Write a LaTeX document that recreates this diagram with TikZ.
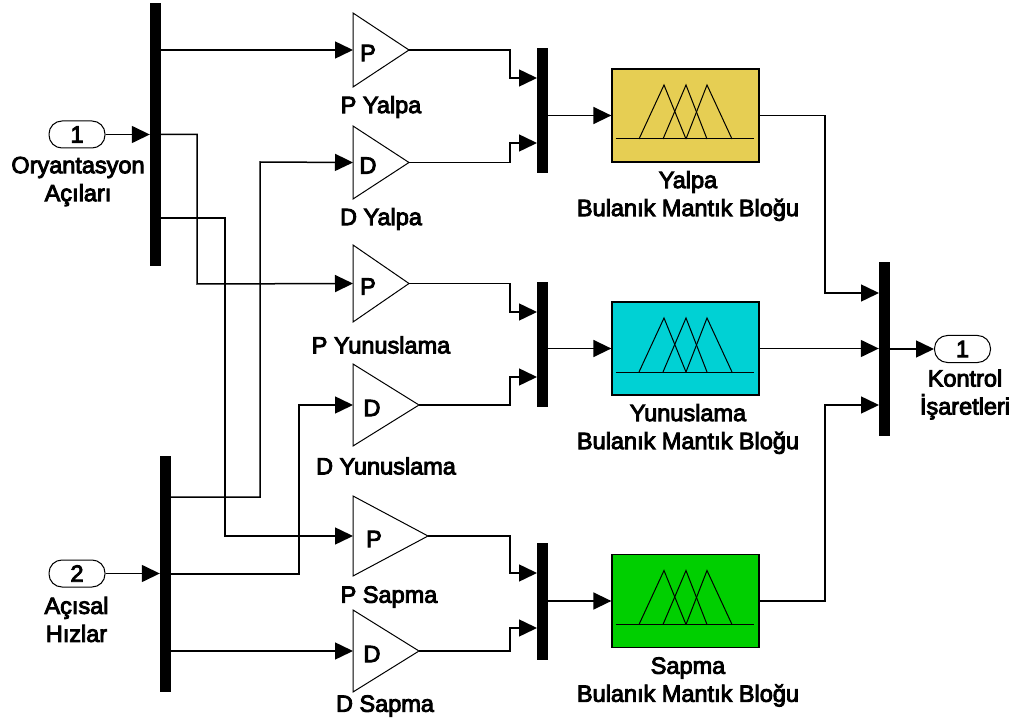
\documentclass[tikz,border=0pt]{standalone}
\usepackage{fontspec}
\setmainfont{Liberation Sans}
\usetikzlibrary{arrows.meta,calc}
\definecolor{fzyellow}{HTML}{E6CE53}
\definecolor{fzcyan}{HTML}{00D1D4}
\definecolor{fzgreen}{HTML}{00CF00}
\newcommand{\heavytext}{\special{pdf:code 2 Tr 0.9 w}}
\tikzset{
  wire/.style={line width=1.5pt,draw=black,-{Triangle[length=18pt,width=17pt]}},
  bar/.style={rectangle,fill=black,draw=none,inner sep=0pt,minimum width=11pt},
  gainbox/.style={line width=1pt,draw=black,line join=miter},
  lbl/.style={inner sep=0pt,align=center,font=\fontsize{23.5}{28}\selectfont\heavytext},
  port/.style={rectangle,draw=black,line width=1pt,rounded corners=13pt,minimum width=56pt,minimum height=27pt,inner sep=0pt,font=\fontsize{23.5}{24}\selectfont},
  fuzzy/.style={rectangle,draw=black,line width=1.3pt,minimum width=147pt,minimum height=93pt,inner sep=0pt},
  mf/.style={line width=1pt,draw=black},
}
% name, left x, top y, bottom y, tip x, letter, letter x
\newcommand{\gainblock}[7]{%
  \draw[gainbox] (#2,#3) -- (#5,{(#3+#4)/2}) -- (#2,#4) -- cycle;
  \coordinate (#1in) at (#2,{(#3+#4)/2});
  \coordinate (#1out) at (#5,{(#3+#4)/2});
  \node[lbl] (#1letter) at (#7,{(#3+#4)/2+3}) {#6};
}
% name, centre y, colour
\newcommand{\fuzzyblock}[3]{%
  \node[fuzzy,fill=#3] (#1) at (685.5,#2) {};
  \draw[mf] ($(#1.center)+(-70,23.5)$) -- ($(#1.center)+(68,23.5)$);
  \draw[mf] ($(#1.center)+(-46.5,23.5)$) -- ($(#1.center)+(-21.5,-30.5)$) -- ($(#1.center)+(0.5,23.5)$);
  \draw[mf] ($(#1.center)+(-22.5,23.5)$) -- ($(#1.center)+(0.5,-30.5)$) -- ($(#1.center)+(21.5,23.5)$);
  \draw[mf] ($(#1.center)+(0.5,23.5)$) -- ($(#1.center)+(21.5,-30.5)$) -- ($(#1.center)+(46.5,23.5)$);
}
\begin{document}
\begin{tikzpicture}[x=1pt,y=-1pt]
\useasboundingbox (0,0) rectangle (1013,722);
% bars
\node[bar,minimum height=263pt] (barA) at (155.5,134.5) {};
\node[bar,minimum height=236pt] (barB) at (165.5,574) {};
\node[bar,minimum height=125pt] (muxA) at (542.5,110.5) {};
\node[bar,minimum height=125pt] (muxB) at (542.5,344.5) {};
\node[bar,minimum height=117pt] (muxC) at (542.5,601.5) {};
\node[bar,minimum height=174pt] (muxOut) at (884.5,349) {};
% ports
\node[port] (inA) at (77,134.5) {\heavytext 1};
\node[port] (inB) at (77,573.5) {\heavytext 2};
\node[port] (outA) at (962.5,349) {\heavytext 1};
% gains
\gainblock{pyal}{353}{13}{87}{409}{P}{368}
\gainblock{dyal}{353}{126}{199}{409}{D}{368}
\gainblock{pyun}{353}{245}{322}{409}{P}{368}
\gainblock{dyun}{353}{364}{446}{419}{D}{372}
\gainblock{psap}{353}{496}{576}{428}{P}{374}
\gainblock{dsap}{353}{610}{692}{419}{D}{372}
% fuzzy blocks
\fuzzyblock{fyal}{115.5}{fzyellow}
\fuzzyblock{fyun}{348.5}{fzcyan}
\fuzzyblock{fsap}{601}{fzgreen}
% labels
\node[lbl] (lor) at (78,181.5) {Oryantasyon\\Açıları};
\node[lbl] (lac) at (76.5,619.5) {Açısal\\Hızlar};
\node[lbl] (lko) at (965,394.5) {Kontrol\\İşaretleri};
\node[lbl] (lpyal) at (381,107) {P Yalpa};
\node[lbl] (ldyal) at (381,219) {D Yalpa};
\node[lbl] (lpyun) at (381,345) {P Yunuslama};
\node[lbl] (ldyun) at (386,466) {D Yunuslama};
\node[lbl] (lpsap) at (389,597) {P Sapma};
\node[lbl] (ldsap) at (385,706) {D Sapma};
\node[lbl] (lfyal) at (688,196) {Yalpa\\Bulanık Mantık Bloğu};
\node[lbl] (lfyun) at (688,429) {Yunuslama\\Bulanık Mantık Bloğu};
\node[lbl] (lfsap) at (688,682) {Sapma\\Bulanık Mantık Bloğu};
% connectors
\draw[wire] (inA.east) -- (inA.east -| barA.west);
\draw[wire] (inB.east) -- (inB.east -| barB.west);
\draw[wire] (pyalin -| barA.east) -- (pyalin);
\draw[wire] (barA.east |- inA.east) -| (197,284) -- (pyunin);
\draw[wire] (161,218) -| (225,536) -- (psapin);
\draw[wire] (171,497) -| (260,162) -- (dyalin);
\draw[wire] (171,574) -| (299,405) -- (dyunin);
\draw[wire] (dsapin -| barB.east) -- (dsapin);
\draw[wire] (pyalout) -| (510,78) -- (537,78);
\draw[wire] (dyalout) -| (510,143) -- (537,143);
\draw[wire] (pyunout) -| (510,312) -- (537,312);
\draw[wire] (dyunout) -| (510,377) -- (537,377);
\draw[wire] (psapout) -| (510,573) -- (537,573);
\draw[wire] (dsapout) -| (510,628) -- (537,628);
\draw[wire] (fyal.west -| muxA.east) -- (fyal.west);
\draw[wire] (fyun.west -| muxB.east) -- (fyun.west);
\draw[wire] (fsap.west -| muxC.east) -- (fsap.west);
\draw[wire] (fyal.east) -| (825,293) -- (879,293);
\draw[wire] (fyun.east) -- (fyun.east -| muxOut.west);
\draw[wire] (fsap.east) -| (825,405) -- (879,405);
\draw[wire] (outA.west -| muxOut.east) -- (outA.west);
\end{tikzpicture}
\end{document}
